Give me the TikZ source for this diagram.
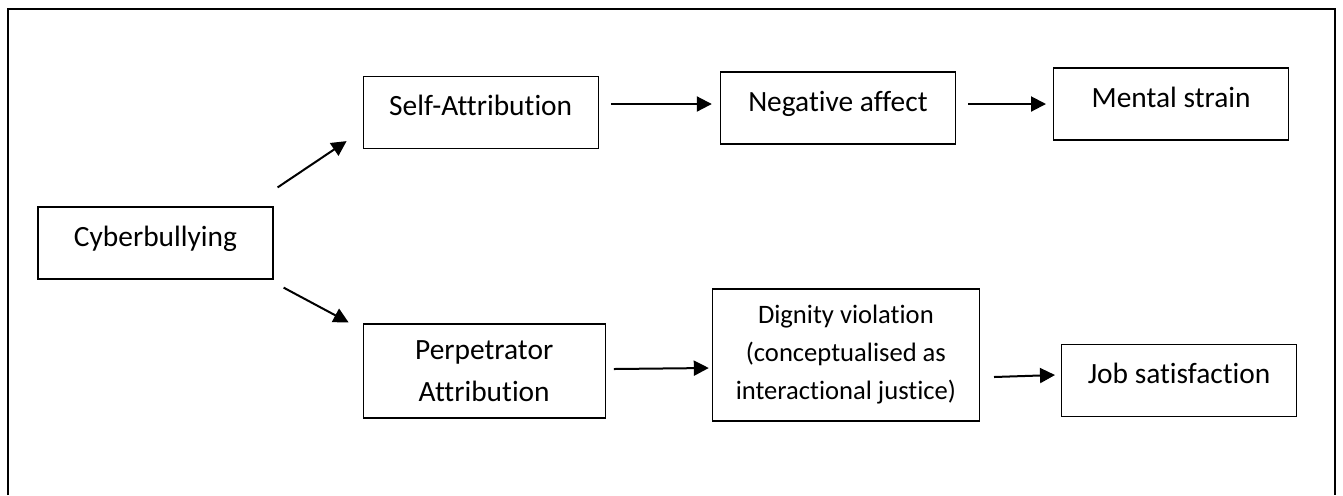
\documentclass[tikz,border=0pt]{standalone}
\usepackage{fontspec}
\setmainfont{Carlito}[Ligatures={CommonOff}]
\usetikzlibrary{arrows.meta, positioning}

\begin{document}
\begin{tikzpicture}[
		font=\fontsize{14.7pt}{21pt}\selectfont,
		node distance=44.5pt,
		box/.style={draw, line width=0.6pt, rectangle, align=center, minimum width=117.5pt, minimum height=36pt, inner sep=2pt},
		oneline/.style={box, text height=9.4pt, text depth=6pt},
		arrow/.style={-{Triangle[length=7.5pt, width=7.5pt]}, line width=1pt}
		]
		
		% Frame
		\useasboundingbox (0,0) rectangle (671.5pt,-247.5pt);
		\draw[line width=0.9pt] (4pt,-247.5pt) -- (4pt,-4.5pt) -- (667.5pt,-4.5pt) -- (667.5pt,-247.5pt);
		
		% Cause
		\node[oneline] (cb) at (77.75pt,-121.5pt) {Cyberbullying};
		
		% Upper path
		\node[oneline, right=of cb, yshift=65.25pt] (sa) {Self-Attribution};
		\node[oneline, right=60.5pt of sa, yshift=2.25pt] (na) {Negative affect};
		\node[oneline, right=48.5pt of na, yshift=2pt] (ms) {Mental strain};
		
		% Lower path
		\node[box, right=of cb, yshift=-64pt, minimum width=121pt, minimum height=47pt] (pa) {Perpetrator\\Attribution};
		\node[box, right=53pt of pa, yshift=8pt, minimum width=133.5pt, minimum height=66pt, font=\fontsize{13.3pt}{19pt}\selectfont] (dv) {Dignity violation\\(conceptualised as\\interactional justice)};
		\node[oneline, right=40.5pt of dv, yshift=-12.75pt] (js) {Job satisfaction};
		
		% Arrows
		\draw[arrow] ([xshift=2pt, yshift=9.5pt]cb.north east) -- ([xshift=-8pt, yshift=4pt]sa.south west);
		\draw[arrow] ([xshift=5pt, yshift=-4pt]cb.south east) -- ([xshift=-7pt, yshift=0.5pt]pa.north west);
		
		\draw[arrow] ([xshift=6pt, yshift=4.25pt]sa.east) -- ([xshift=-4pt, yshift=2pt]na.west);
		\draw[arrow] ([xshift=6pt, yshift=2pt]na.east) -- ([xshift=-3.5pt]ms.west);
		
		\draw[arrow] ([xshift=4pt, yshift=1pt]pa.east) -- ([xshift=-1.5pt, yshift=-6.5pt]dv.west);
		\draw[arrow] ([xshift=7pt, yshift=-11pt]dv.east) -- ([xshift=-3pt, yshift=2.75pt]js.west);
		
	\end{tikzpicture}
\end{document}
